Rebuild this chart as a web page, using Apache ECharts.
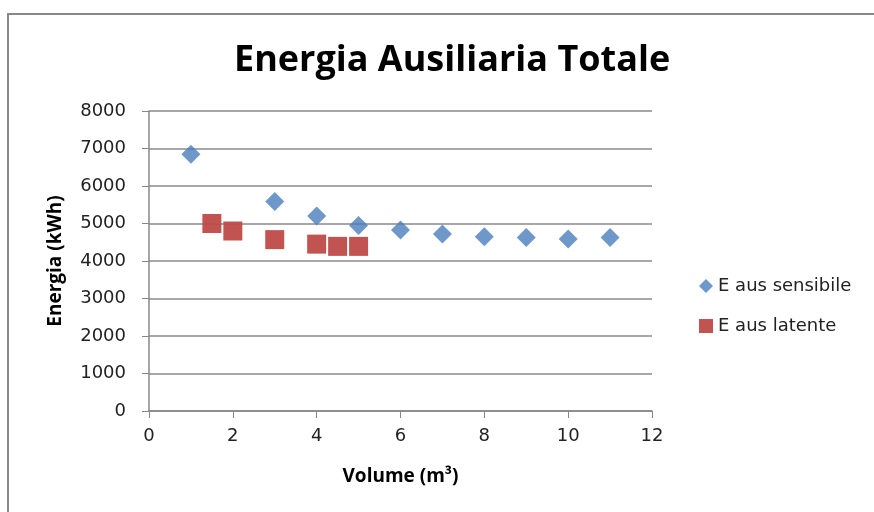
<!DOCTYPE html>
<html>
<head>
<meta charset="utf-8">
<script src="https://cdn.jsdelivr.net/npm/echarts@6/dist/echarts.min.js"></script>
<style>
  html, body { margin: 0; padding: 0; background: #fff; }
  #chart1 { width: 874px; height: 512px; }
</style>
</head>
<body>
<div id="chart1"></div>
<script>
// valori
const sensibileX = [1, 3, 4, 5, 6, 7, 8, 9, 10, 11];
const sensibileY = [6850, 5590, 5200, 4950, 4830, 4720, 4650, 4630, 4590, 4630];
const latenteX = [1.5, 2, 3, 4, 4.5, 5];
const latenteY = [5000, 4800, 4570, 4450, 4390, 4390];
const xTicks = [0, 2, 4, 6, 8, 10, 12];
const yTicks = [0, 1000, 2000, 3000, 4000, 5000, 6000, 7000, 8000];

let chart1;
const font = 'DejaVu Sans';
const boldFont = 'Open Sans';

const getOptionChart1 = () => {
    return {
        animation: false,
        backgroundColor: '#fff',
        textStyle: { fontFamily: font },
        title: {
            text: 'Energia Ausiliaria Totale',
            left: 229,
            top: 38,
            textStyle: { fontSize: 36, fontWeight: 'bold', color: '#000', fontFamily: boldFont }
        },
        graphic: [{
            type: 'rect',
            shape: { x: 8, y: 14, width: 900, height: 520 },
            style: { fill: 'none', stroke: '#888', lineWidth: 2 },
            silent: true
        }],
        legend: {
            orient: 'vertical',
            left: 694,
            top: 272,
            itemGap: 22,
            itemWidth: 14,
            itemHeight: 14,
            textStyle: { fontSize: 18, color: '#222', fontFamily: font },
            data: [
                { name: 'E aus sensibile', icon: 'diamond' },
                { name: 'E aus latente', icon: 'rect' }
            ]
        },
        grid: { left: 149, right: 222, top: 111, bottom: 101 },
        xAxis: {
            type: 'value',
            min: xTicks[0],
            max: xTicks[xTicks.length - 1],
            interval: 2,
            name: 'Volume (m³)',
            nameLocation: 'middle',
            nameGap: 56,
            nameTextStyle: { fontSize: 19, fontWeight: 'bold', color: '#000', fontFamily: boldFont },
            axisLine: { lineStyle: { color: '#888', width: 1.5 } },
            axisTick: { show: true, length: 7, lineStyle: { color: '#888' } },
            axisLabel: { fontSize: 18, color: '#222', margin: 16 },
            splitLine: { show: false }
        },
        yAxis: {
            type: 'value',
            min: yTicks[0],
            max: yTicks[yTicks.length - 1],
            interval: 1000,
            name: 'Energia (kWh)',
            nameLocation: 'middle',
            nameGap: 84,
            nameTextStyle: { fontSize: 19, fontWeight: 'bold', color: '#000', fontFamily: boldFont },
            axisLine: { show: true, lineStyle: { color: '#888', width: 1.5 } },
            axisTick: { show: true, length: 7, lineStyle: { color: '#888' } },
            axisLabel: { fontSize: 18, color: '#222', margin: 23, padding: [4, 0, 0, 0], formatter: v => String(v) },
            splitLine: { show: true, lineStyle: { color: '#8a8a8a', width: 1.5 } }
        },
        series: [
            {
                name: 'E aus sensibile',
                type: 'scatter',
                symbol: 'diamond',
                symbolSize: 19,
                itemStyle: { color: '#4a7ebb' },
                data: sensibileX.map((x, i) => [x, sensibileY[i]])
            },
            {
                name: 'E aus latente',
                type: 'scatter',
                symbol: 'rect',
                symbolSize: 19,
                itemStyle: { color: '#be4b48', opacity: 0.95 },
                data: latenteX.map((x, i) => [x, latenteY[i]])
            }
        ]
    };
}

const initCharts = () => {
    chart1 = echarts.init(document.getElementById("chart1"));
    chart1.setOption(getOptionChart1());
}
document.addEventListener('DOMContentLoaded', function () {
    initCharts();
});

window.addEventListener('resize', function () {
    chart1.resize();
})
</script>
</body>
</html>
